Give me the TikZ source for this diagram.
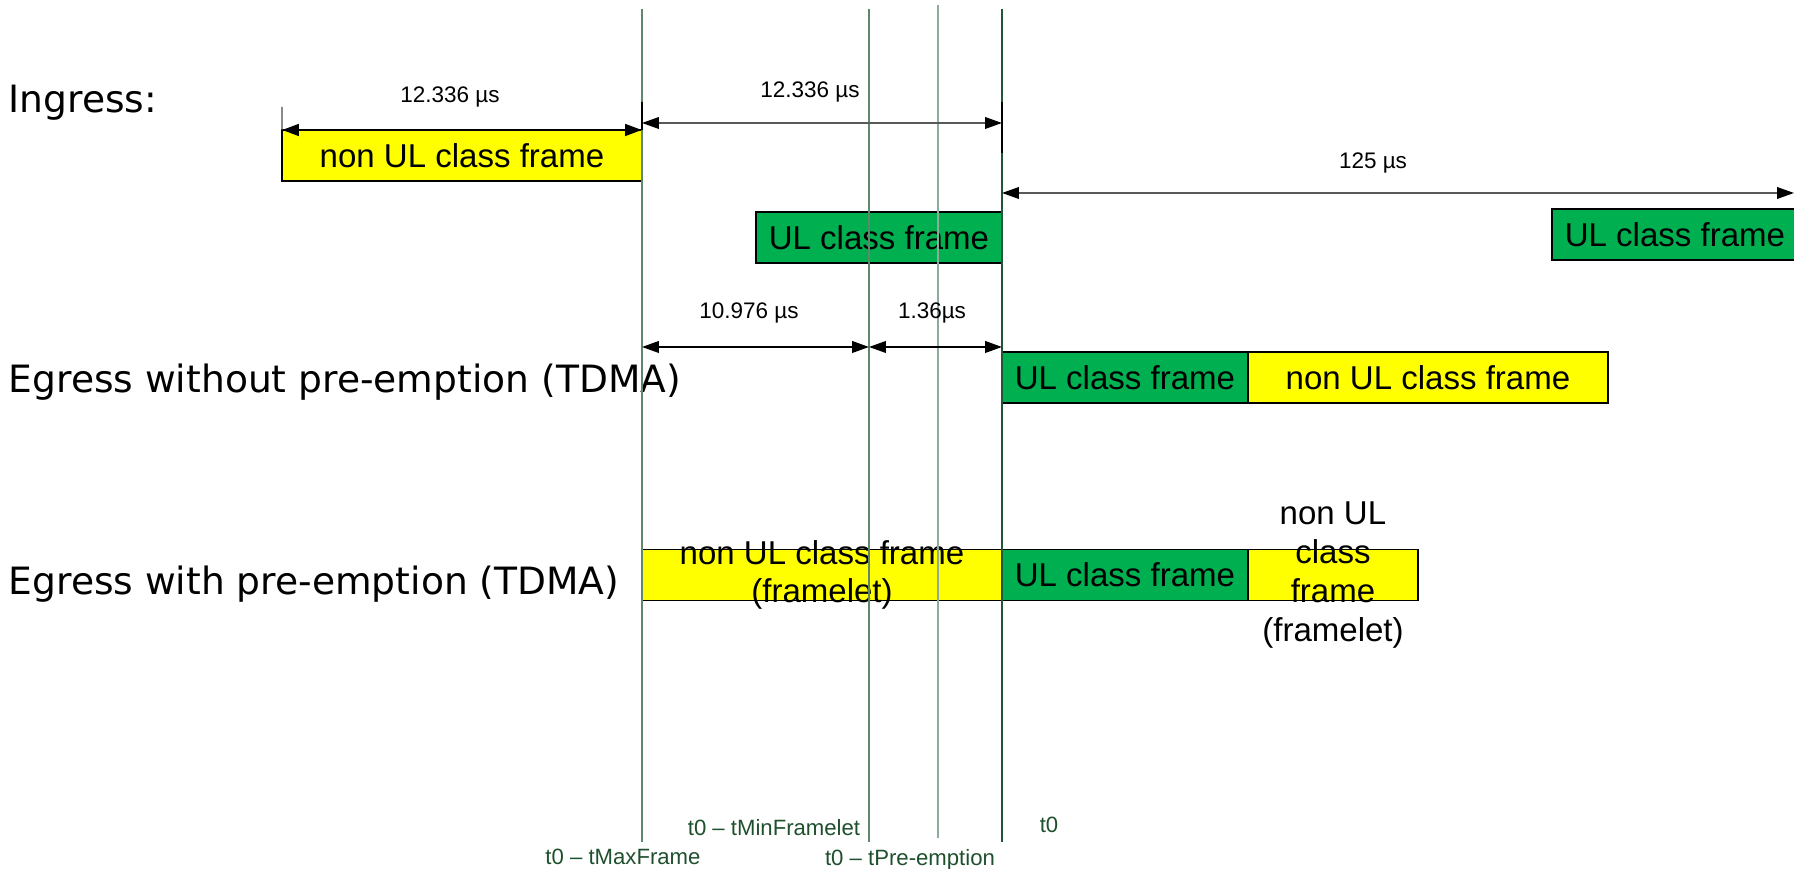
\documentclass[tikz,border=0pt]{standalone}
\usepackage{fontspec}
\setmainfont{Liberation Sans}
\newfontfamily\headfont{DejaVu Sans}
\usepackage{xcolor}
\usepackage{tikz}
\usetikzlibrary{arrows.meta,positioning}

\definecolor{ulgreen}{RGB}{0,176,80}
\definecolor{frameyellow}{RGB}{255,255,0}
\definecolor{gridgreen}{RGB}{95,135,110}
\definecolor{zerogreen}{RGB}{35,85,55}
\definecolor{timegreen}{RGB}{30,80,45}

\begin{document}
\begin{tikzpicture}[
    framebox/.style={draw=black, line width=0.55pt, inner sep=0pt, outer sep=0pt, minimum height=0.51cm, font=\fontsize{9.4}{11}\selectfont},
    ulframe/.style={framebox, fill=ulgreen, minimum width=2.46cm},
    nonulframe/.style={framebox, fill=frameyellow, minimum width=3.60cm},
    framelabel/.style={inner sep=0pt, align=center, font=\fontsize{9.4}{11}\selectfont},
    dimline/.style={{Triangle[length=4.8pt,width=3.3pt,black]}-{Triangle[length=4.8pt,width=3.3pt,black]}, line width=0.45pt, draw=black!65},
    dimlabel/.style={inner sep=0pt, font=\fontsize{6.4}{7.5}\selectfont},
    rowlabel/.style={anchor=base west, inner sep=0pt, font=\headfont\fontsize{10.7}{12}\selectfont},
    timeline/.style={line width=0.42pt, draw=gridgreen},
    timelabel/.style={inner sep=0pt, text=timegreen, font=\fontsize{6.3}{7.5}\selectfont}
]
    \useasboundingbox (0,0) rectangle (17.94,8.69);

    % Row titles
    \node[rowlabel] (ingress) at (0.08,7.56) {Ingress:};
    \node[rowlabel] (egressTdma) at (0.08,4.76) {Egress without pre-emption (TDMA)};
    \node[rowlabel] (egressPre) at (0.08,2.74) {Egress with pre-emption (TDMA)};

    % Ingress frames
    \node[nonulframe] (nonUlIn) at (4.62,7.135) {non UL class frame};
    \node[ulframe] (ulIn) at (8.79,6.315) {UL class frame};
    \node[ulframe, anchor=west] (ulNext) at (15.52,6.345) {UL class frame};

    % Egress without pre-emption
    \node[ulframe, anchor=west] (ulTdma) at (10.02,4.915) {UL class frame};
    \node[nonulframe, right=0pt of ulTdma] (nonUlTdma) {non UL class frame};

    % Egress with pre-emption
    \node[nonulframe, anchor=west] (nonUlPre) at (6.42,2.94) {};
    \node[ulframe, right=0pt of nonUlPre] (ulPre) {UL class frame};
    \node[framebox, fill=frameyellow, minimum width=1.70cm, right=0pt of ulPre] (restPre) {};
    \node[framelabel] (nonUlPreText) at (nonUlPre.center) {non UL class frame\\(framelet)};
    \node[framelabel, font=\fontsize{9.4}{11.1}\selectfont] (restPreText) at (restPre.center) {non UL\\class\\frame\\(framelet)};

    % Time marks
    \coordinate (maxTop) at (6.42,8.60);
    \coordinate (maxBot) at (6.42,0.27);
    \coordinate (minTop) at (8.69,8.60);
    \coordinate (minBot) at (8.69,0.27);
    \coordinate (preTop) at (9.38,8.64);
    \coordinate (preBot) at (9.38,0.31);
    \coordinate (zeroTop) at (10.02,8.60);
    \coordinate (zeroBot) at (10.02,0.27);

    \draw[timeline] (maxTop) -- (maxBot);
    \draw[timeline] (minTop) -- (minBot);
    \draw[timeline, draw=gridgreen!70] (preTop) -- (preBot);
    \draw[timeline, draw=zerogreen] (zeroTop) -- (zeroBot);

    % Durations
    \coordinate (extIn) at (2.82,7.62);
    \coordinate (extMaxTop) at (6.42,7.67);
    \coordinate (ingA) at (6.42,7.46);
    \coordinate (ingB) at (10.02,7.46);
    \coordinate (extZeroTop) at (10.02,7.67);
    \coordinate (extZeroBot) at (10.02,7.16);
    \coordinate (cycA) at (10.02,6.76);
    \coordinate (cycB) at (17.94,6.76);
    \coordinate (egA) at (6.42,5.22);
    \coordinate (egB) at (8.69,5.22);
    \coordinate (egC) at (10.02,5.22);

    \draw[line width=0.4pt, draw=black!70] (extIn) -- (nonUlIn.north west);
    \draw[line width=0.45pt] (extMaxTop) -- (nonUlIn.north east);
    \draw[line width=0.45pt] (extZeroTop) -- (extZeroBot);
    \draw[dimline, draw=black, line width=0.75pt] (nonUlIn.north west) -- (nonUlIn.north east);
    \draw[dimline] (ingA) -- (ingB);
    \draw[dimline] (cycA) -- (cycB);
    \draw[dimline, draw=black, line width=0.55pt] (egA) -- (egB);
    \draw[dimline, draw=black, line width=0.55pt] (egB) -- (egC);

    \node[dimlabel] (durIn) at (4.50,7.72) {12.336 µs};
    \node[dimlabel] (durGap) at (8.10,7.77) {12.336 µs};
    \node[dimlabel] (durCycle) at (13.73,7.06) {125 µs};
    \node[dimlabel] (durFrame) at (7.49,5.56) {10.976 µs};
    \node[dimlabel] (durPre) at (9.32,5.56) {1.36µs};

    % Time mark names
    \node[timelabel] (maxName) at (6.23,0.12) {t0 – tMaxFrame};
    \node[timelabel] (minName) at (7.74,0.41) {t0 – tMinFramelet};
    \node[timelabel] (preName) at (9.10,0.09) {t0 – tPre-emption};
    \node[timelabel] (zeroName) at (10.49,0.44) {t0};
\end{tikzpicture}
\end{document}
